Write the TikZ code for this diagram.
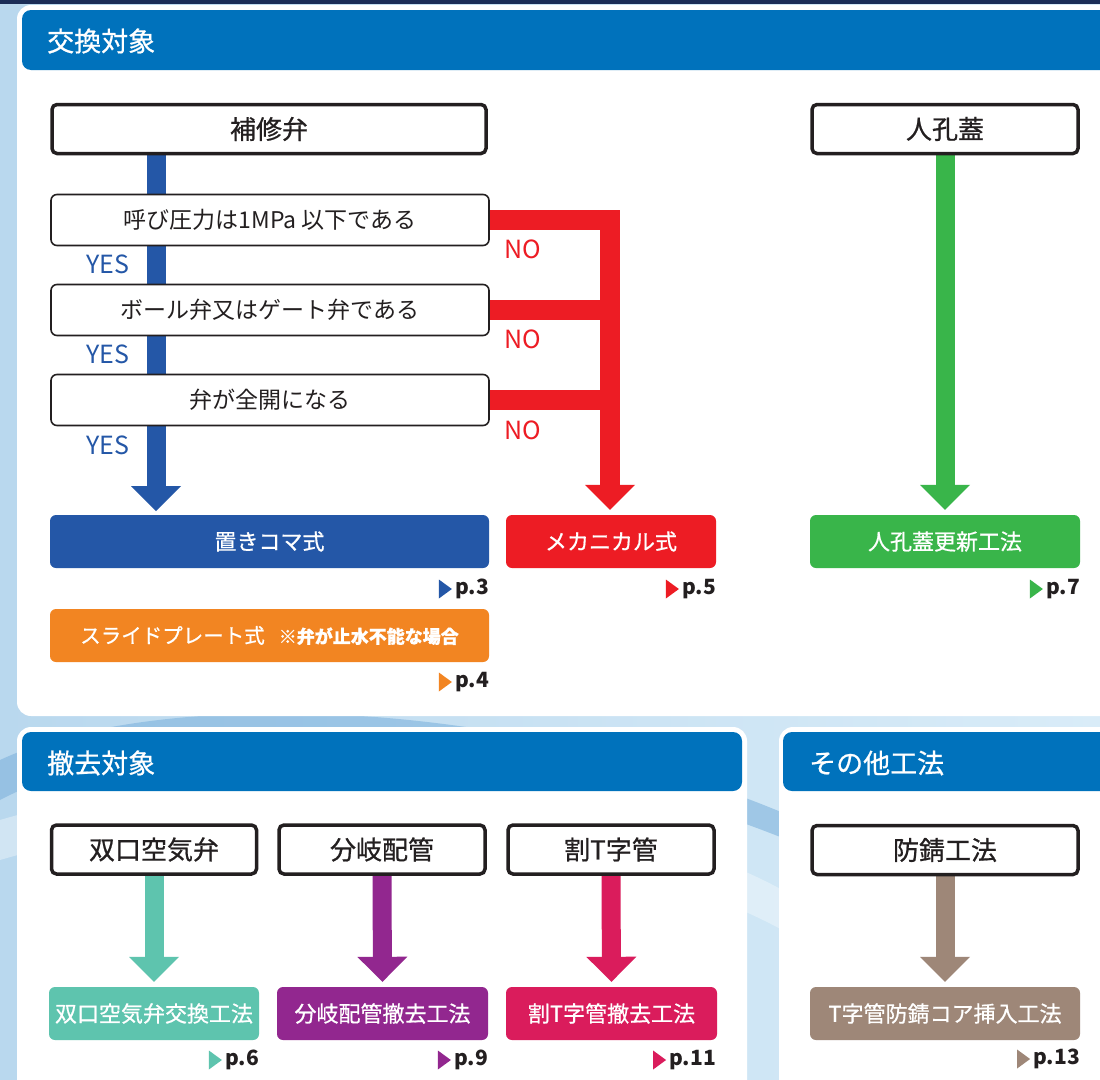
\documentclass[tikz,border=0pt]{standalone}
\usepackage{fontspec}
\setmainfont{Noto Sans CJK JP}
\newfontfamily\medium{Noto Sans CJK JP}[FakeBold=0.7]
\usetikzlibrary{arrows.meta}
\pgfdeclarelayer{back}
\pgfdeclarelayer{flow}
\pgfsetlayers{back,flow,main}
\definecolor{hdr}{HTML}{0072BC}
\definecolor{cblue}{HTML}{2457A7}
\definecolor{cred}{HTML}{ED1C24}
\definecolor{corange}{HTML}{F28522}
\definecolor{cgreen}{HTML}{39B54A}
\definecolor{cteal}{HTML}{5EC4AE}
\definecolor{cpurple}{HTML}{92278F}
\definecolor{ccrimson}{HTML}{DA1C5C}
\definecolor{cbrown}{HTML}{9E8778}
\definecolor{ink}{HTML}{231F20}
\definecolor{bgL}{HTML}{B9D8EE}
\definecolor{bgR}{HTML}{D9ECF8}
\definecolor{navy}{HTML}{1B2D57}
\definecolor{swoosh}{HTML}{7FB3DD}
\newcommand\fs[1]{\fontsize{#1}{#1}\selectfont}
\newcommand\plab[5]{%
  \node[plabel, anchor=east] (#1) at (#3,#4) {#5};
  \fill[#2] ([xshift=-16pt,yshift=9.5pt]#1.west) -- ([xshift=-16pt,yshift=-9.5pt]#1.west) -- ([xshift=-3pt]#1.west) -- cycle;}
\begin{document}
\begin{tikzpicture}[x=1pt,y=-1pt,
  tbox/.style={draw=ink, line width=3.5pt, rounded corners=5pt, fill=white, inner sep=0pt, text=ink, font=\medium\fs{26}},
  qbox/.style={draw=ink, line width=1.6pt, rounded corners=6pt, fill=white, inner sep=0pt, text=ink, font=\fs{23}, minimum width=438, minimum height=51},
  rbox/.style={fill=#1, rounded corners=6pt, inner sep=0pt, text=white, font=\medium\fs{22}, minimum height=53},
  hdrtext/.style={text=white, font=\medium\fs{27}, inner sep=0pt, anchor=west},
  yes/.style={text=cblue, font=\fs{25}, inner sep=0pt},
  no/.style={text=cred, font=\fs{25}, inner sep=0pt},
  plabel/.style={text=ink, font=\fs{21}\bfseries, inner sep=0pt},
  flow/.style={line width=19pt, -{Triangle[width=50pt,length=25pt,line width=0pt]}},
  bar/.style={line width=20pt}]
\useasboundingbox (0,0) rectangle (1100,1079);

% ---------- background and panels ----------
\begin{pgfonlayer}{back}
  \shade[left color=bgL, right color=bgR] (0,0) rectangle (1100,1079);
  \fill[swoosh, opacity=0.6] (0,760) .. controls (150,690) and (500,690) .. (800,820)
        -- (800,845) .. controls (500,720) and (150,720) .. (0,800) -- cycle;
  \fill[white, opacity=0.35] (0,820) .. controls (200,760) and (600,780) .. (800,900)
        -- (800,940) .. controls (600,820) and (200,800) .. (0,860) -- cycle;
  \fill[navy] (0,0) rectangle (1100,4);
  \fill[white, rounded corners=14pt] (17,5) rectangle (1130,716);
  \fill[hdr, rounded corners=9pt] (22,10) rectangle (1130,70);
  \fill[white, rounded corners=14pt] (17,727) rectangle (747,1110);
  \fill[hdr, rounded corners=9pt] (22,732) rectangle (742,791);
  \fill[white, rounded corners=14pt] (779,727) rectangle (1130,1110);
  \fill[hdr, rounded corners=9pt] (783,732) rectangle (1130,791);
\end{pgfonlayer}

% ---------- headers ----------
\node[hdrtext] (h1) at (47,41) {交換対象};
\node[hdrtext] (h2) at (47,763) {撤去対象};
\node[hdrtext] (h3) at (809,763) {その他工法};

% ---------- top panel nodes ----------
\node[tbox, minimum width=434, minimum height=49] (hosyu) at (269,129) {補修弁};
\node[qbox] (q1) at (270,220) {呼び圧力は1MPa 以下である};
\node[qbox] (q2) at (270,310) {ボール弁又はゲート弁である};
\node[qbox] (q3) at (270,400) {弁が全開になる};
\node[yes] (y1) at (108,264) {YES};
\node[yes] (y2) at (108,354) {YES};
\node[yes] (y3) at (108,445) {YES};
\node[no] (n1) at (523,249) {NO};
\node[no] (n2) at (523,339) {NO};
\node[no] (n3) at (523,430) {NO};

\node[rbox=cblue, minimum width=439] (oki) at (269.5,541.5) {置きコマ式};
\node[rbox=cred, minimum width=210] (meca) at (611,541.5) {メカニカル式};
\node[rbox=corange, minimum width=439] (slide) at (269.5,635.5)
   {\fs{20.5}スライドプレート式\hspace{14pt}{\fs{18}\bfseries ※弁が止水不能な場合}};
\plab{p3}{cblue}{489}{589}{p.3}
\plab{p5}{cred}{716}{589}{p.5}
\plab{p4}{corange}{489}{682}{p.4}

\node[tbox, minimum width=266, minimum height=49] (jinko) at (945,129) {人孔蓋};
\node[rbox=cgreen, minimum width=270] (jinkoR) at (945,541.5) {人孔蓋更新工法};
\plab{p7}{cgreen}{1080}{589}{p.7}

% ---------- bottom nodes ----------
\node[tbox, minimum width=205, minimum height=49] (sg) at (154,849.5) {双口空気弁};
\node[tbox, minimum width=206, minimum height=49] (bk) at (382,849.5) {分岐配管};
\node[tbox, minimum width=206, minimum height=49] (wt) at (611,849.5) {割T字管};
\node[tbox, minimum width=266, minimum height=49] (bs) at (945,850) {防錆工法};

\node[rbox=cteal, minimum width=210] (sgR) at (154,1013.5) {双口空気弁交換工法};
\node[rbox=cpurple, minimum width=211] (bkR) at (382.5,1013.5) {分岐配管撤去工法};
\node[rbox=ccrimson, minimum width=211] (wtR) at (611.5,1013.5) {割T字管撤去工法};
\node[rbox=cbrown, minimum width=270] (bsR) at (945,1013.5) {T字管防錆コア挿入工法};
\plab{p6}{cteal}{259}{1060}{p.6}
\plab{p9}{cpurple}{488}{1060}{p.9}
\plab{p11}{ccrimson}{716}{1060}{p.11}
\plab{p13}{cbrown}{1080}{1059}{p.13}

% ---------- connectors ----------
\coordinate (bT) at (156,511);
\coordinate (rTop) at (610,210);
\coordinate (rR) at (620,0);
\begin{pgfonlayer}{flow}
  \draw[flow, cblue] (hosyu.south -| bT) -- (bT);
  \draw[bar, cred] (q1.east) -- (q1.east -| rR);
  \draw[bar, cred] (q2.east) -- (q2.east -| rR);
  \draw[bar, cred] (q3.east) -- (q3.east -| rR);
  \draw[flow, cred, line width=20pt, shorten >=5pt] (rTop) -- (meca.north -| rTop);
  \draw[flow, cgreen, shorten >=5pt] (jinko.south) -- (jinkoR.north);
  \draw[flow, cteal, shorten >=5pt] (sg.south) -- (sgR.north);
  \draw[flow, cpurple, shorten >=5pt] (bk.south) -- (bkR.north);
  \draw[flow, ccrimson, shorten >=5pt] (wt.south) -- (wtR.north);
  \draw[flow, cbrown, shorten >=5pt] (bs.south) -- (bsR.north);
\end{pgfonlayer}
\end{tikzpicture}
\end{document}
